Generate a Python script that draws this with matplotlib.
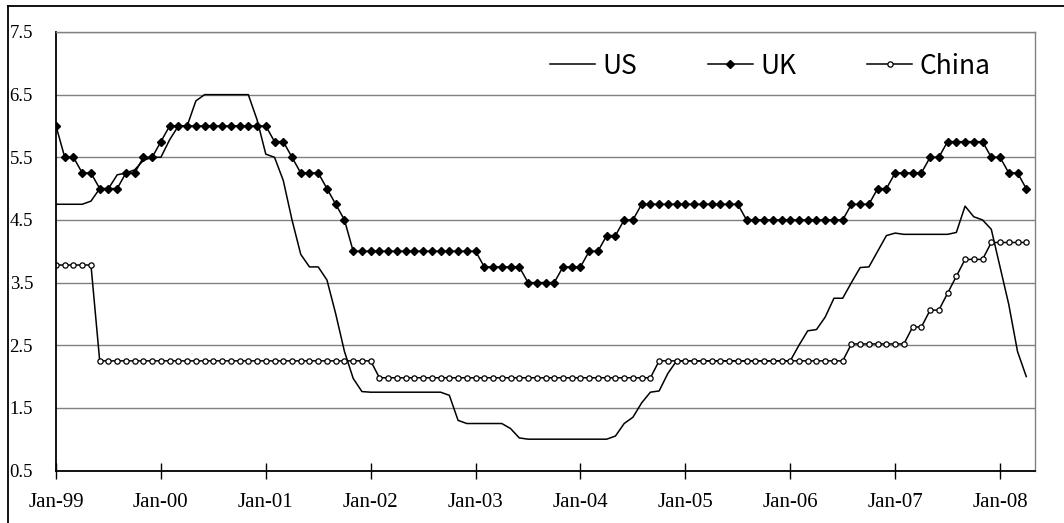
import matplotlib.pyplot as plt
from matplotlib.lines import Line2D

# monthly policy rates, Jan-99 .. Apr-08
us = [4.75, 4.75, 4.75, 4.75, 4.8, 5.0, 5.0, 5.22, 5.25, 5.3, 5.45, 5.5,
      5.5, 5.78, 6.0, 6.0, 6.4, 6.5, 6.5, 6.5, 6.5, 6.5, 6.5, 6.1,
      5.55, 5.5, 5.13, 4.5, 3.95, 3.75, 3.75, 3.54, 3.0, 2.4, 1.97, 1.76,
      1.75, 1.75, 1.75, 1.75, 1.75, 1.75, 1.75, 1.75, 1.75, 1.7, 1.3, 1.25,
      1.25, 1.25, 1.25, 1.25, 1.17, 1.02, 1.0, 1.0, 1.0, 1.0, 1.0, 1.0,
      1.0, 1.0, 1.0, 1.0, 1.05, 1.25, 1.35, 1.58, 1.75, 1.77, 2.05, 2.25,
      2.25, 2.25, 2.25, 2.25, 2.25, 2.25, 2.25, 2.25, 2.25, 2.25, 2.25, 2.25,
      2.25, 2.5, 2.73, 2.75, 2.95, 3.25, 3.25, 3.5, 3.74, 3.75, 4.0, 4.25,
      4.29, 4.27, 4.27, 4.27, 4.27, 4.27, 4.27, 4.3, 4.72, 4.55, 4.5, 4.35,
      3.75, 3.15, 2.4, 2.0]

uk = [6.0, 5.5, 5.5, 5.25, 5.25, 5.0, 5.0, 5.0, 5.25, 5.25, 5.5, 5.5,
      5.75, 6.0, 6.0, 6.0, 6.0, 6.0, 6.0, 6.0, 6.0, 6.0, 6.0, 6.0,
      6.0, 5.75, 5.75, 5.5, 5.25, 5.25, 5.25, 5.0, 4.75, 4.5, 4.0, 4.0,
      4.0, 4.0, 4.0, 4.0, 4.0, 4.0, 4.0, 4.0, 4.0, 4.0, 4.0, 4.0,
      4.0, 3.75, 3.75, 3.75, 3.75, 3.75, 3.5, 3.5, 3.5, 3.5, 3.75, 3.75,
      3.75, 4.0, 4.0, 4.25, 4.25, 4.5, 4.5, 4.75, 4.75, 4.75, 4.75, 4.75,
      4.75, 4.75, 4.75, 4.75, 4.75, 4.75, 4.75, 4.5, 4.5, 4.5, 4.5, 4.5,
      4.5, 4.5, 4.5, 4.5, 4.5, 4.5, 4.5, 4.75, 4.75, 4.75, 5.0, 5.0,
      5.25, 5.25, 5.25, 5.25, 5.5, 5.5, 5.75, 5.75, 5.75, 5.75, 5.75, 5.5,
      5.5, 5.25, 5.25, 5.0]

china = [3.78, 3.78, 3.78, 3.78, 3.78, 2.25, 2.25, 2.25, 2.25, 2.25, 2.25, 2.25,
         2.25, 2.25, 2.25, 2.25, 2.25, 2.25, 2.25, 2.25, 2.25, 2.25, 2.25, 2.25,
         2.25, 2.25, 2.25, 2.25, 2.25, 2.25, 2.25, 2.25, 2.25, 2.25, 2.25, 2.25,
         2.25, 1.98, 1.98, 1.98, 1.98, 1.98, 1.98, 1.98, 1.98, 1.98, 1.98, 1.98,
         1.98, 1.98, 1.98, 1.98, 1.98, 1.98, 1.98, 1.98, 1.98, 1.98, 1.98, 1.98,
         1.98, 1.98, 1.98, 1.98, 1.98, 1.98, 1.98, 1.98, 1.98, 2.25, 2.25, 2.25,
         2.25, 2.25, 2.25, 2.25, 2.25, 2.25, 2.25, 2.25, 2.25, 2.25, 2.25, 2.25,
         2.25, 2.25, 2.25, 2.25, 2.25, 2.25, 2.25, 2.52, 2.52, 2.52, 2.52, 2.52,
         2.52, 2.52, 2.79, 2.79, 3.06, 3.06, 3.33, 3.60, 3.87, 3.87, 3.87, 4.14,
         4.14, 4.14, 4.14, 4.14]

year_labels = ['Jan-99', 'Jan-00', 'Jan-01', 'Jan-02', 'Jan-03',
               'Jan-04', 'Jan-05', 'Jan-06', 'Jan-07', 'Jan-08']
y_ticks = [0.5, 1.5, 2.5, 3.5, 4.5, 5.5, 6.5, 7.5]

months = list(range(len(uk)))

W, H = 1064, 523
fig = plt.figure(figsize=(W / 100, H / 100), dpi=100)
ax = fig.add_axes([56 / W, 1 - 470.5 / H, (1035 - 56) / W, (470.5 - 32) / H])

ax.plot(months, us, color='black', lw=1.1, label='US')
ax.plot(months, uk, color='black', lw=1.1, marker='D', ms=4, label='UK')
ax.plot(months, china, color='black', lw=1.1, marker='o', ms=3.8,
        mfc='white', mec='black', mew=0.9, label='China')

ax.set_xlim(0, 112)
ax.set_ylim(0.5, 7.5)
ax.set_yticks(y_ticks)
ax.set_yticklabels([f'{v:.1f}' for v in y_ticks], family='Liberation Serif', fontsize=13.5)
ax.set_xticks(range(0, 112, 12))
ax.set_xticklabels(year_labels, family='Liberation Serif', fontsize=15)

ax.yaxis.grid(True, color='#808080', lw=1)
ax.set_axisbelow(True)
ax.tick_params(axis='y', length=0, pad=16.5)
ax.tick_params(axis='x', direction='inout', length=11, width=1, pad=11)

for side in ['left', 'bottom']:
    ax.spines[side].set_color('black')
    ax.spines[side].set_linewidth(1.3)
for side in ['top', 'right']:
    ax.spines[side].set_color('#808080')
    ax.spines[side].set_linewidth(1)

leg = ax.legend(loc='center left', bbox_to_anchor=(0.5046, 0.922), ncol=3,
                frameon=False, borderpad=0, borderaxespad=0, numpoints=1,
                handlelength=1.7, handletextpad=0.27, columnspacing=2.7,
                prop={'family': ['Noto Sans CJK SC', 'DejaVu Sans'],
                      'size': 19, 'weight': 'light'})

# outer chart border
fig.add_artist(Line2D([7.5 / W, 7.5 / W], [0, 1 - 6 / H], color='black', lw=1.3))
fig.add_artist(Line2D([7.5 / W, 1], [1 - 6 / H, 1 - 6 / H], color='black', lw=1.3))

fig.savefig('out.png', dpi=100)
